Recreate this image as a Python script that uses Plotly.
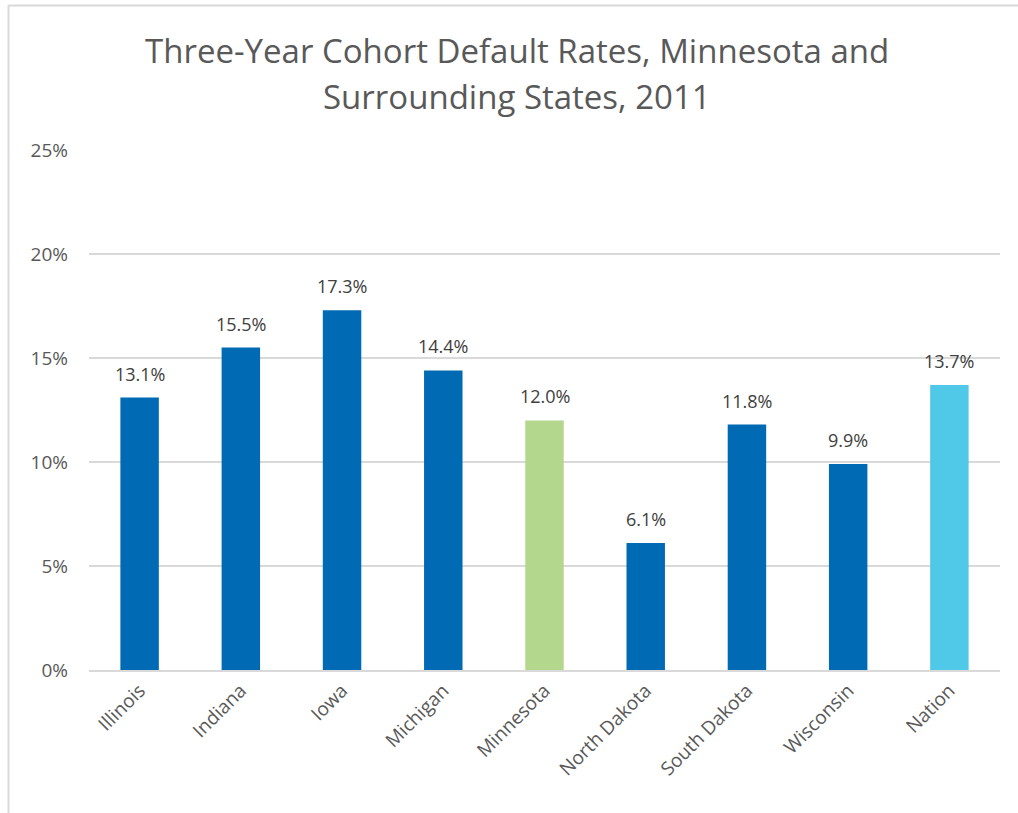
import plotly.graph_objects as go

categories = ["Illinois", "Indiana", "Iowa", "Michigan", "Minnesota",
              "North Dakota", "South Dakota", "Wisconsin", "Nation"]
rates = [13.1, 15.5, 17.3, 14.4, 12.0, 6.1, 11.8, 9.9, 13.7]
colors = ["#006AB4", "#006AB4", "#006AB4", "#006AB4", "#B3D78C",
          "#006AB4", "#006AB4", "#006AB4", "#4FC9E7"]
tick_vals = [0, 5, 10, 15, 20, 25]
tick_text = ["0%", "5%", "10%", "15%", "20%", "25%"]
title_lines = ["Three-Year Cohort Default Rates, Minnesota and",
               "Surrounding States, 2011"]

FONT = "Open Sans, Liberation Sans, sans-serif"
GRAY = "#595959"
L, T, PW, PH = 89, 150, 911, 520

fig = go.Figure(go.Bar(
    x=categories, y=rates, marker_color=colors, marker_line_width=0,
))

# value labels above bars
for c, v in zip(categories, rates):
    fig.add_annotation(x=c, y=v, text=f"{v:.1f}%", showarrow=False,
                       yanchor="bottom", yshift=10,
                       font=dict(size=18, color="#404040", family=FONT))

# title lines
for i, line in enumerate(title_lines):
    screen_y = 50 + 47 * i
    fig.add_annotation(xref="paper", yref="paper", x=(517 - L) / PW,
                       xanchor="center",
                       y=1 + (T - screen_y) / PH, yanchor="middle",
                       text=line, showarrow=False,
                       font=dict(size=33, color=GRAY, family=FONT))

fig.update_layout(
    width=1018, height=813,
    margin=dict(l=L, r=1018 - L - PW, t=T, b=813 - T - PH),
    paper_bgcolor="white", plot_bgcolor="white",
    bargap=0.62,
    showlegend=False,
    xaxis=dict(
        tickangle=-45, tickfont=dict(size=19, color=GRAY, family=FONT),
        showline=True, linecolor="#D9D9D9", linewidth=2, ticks="",
        showgrid=False,
    ),
    yaxis=dict(
        range=[0, 25], tickvals=tick_vals, ticktext=tick_text,
        tickfont=dict(size=19, color=GRAY, family=FONT),
        showgrid=True, gridcolor="#D9D9D9", gridwidth=1.5,
        zeroline=False, showline=False, ticks="", ticklabelstandoff=20,
    ),
    shapes=[
        dict(type="line", xref="paper", yref="paper",
             x0=(8.5 - L) / PW, x1=(8.5 - L) / PW,
             y0=1 + (T - 5) / PH, y1=-(813 - T - PH) / PH,
             line=dict(color="#D9D9D9", width=2)),
        dict(type="line", xref="paper", yref="paper",
             x0=(8.5 - L) / PW, x1=(1018 - L) / PW,
             y0=1 + (T - 5.5) / PH, y1=1 + (T - 5.5) / PH,
             line=dict(color="#D9D9D9", width=2)),
    ],
)

fig.write_html("out.html", config={"displayModeBar": False},
               post_script="document.body.style.margin='0';"
                           "document.documentElement.style.overflow='hidden';"
                           "document.body.style.overflow='hidden';")
